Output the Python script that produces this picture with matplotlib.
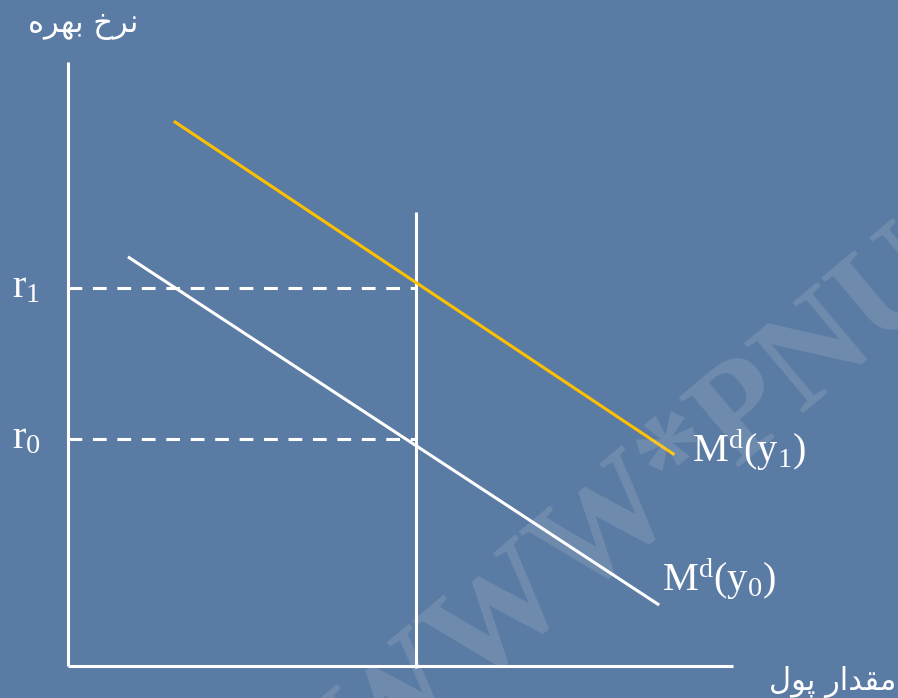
import matplotlib.pyplot as plt

plt.rcParams['mathtext.fontset'] = 'custom'
plt.rcParams['mathtext.rm'] = 'Liberation Serif'
plt.rcParams['mathtext.it'] = 'Liberation Serif'

# نمودار تقاضای پول - مقادیر به واحد دلخواه (مبدا = 0)
x_axis_end = 10.0
y_axis_end = 9.08
ms_x = 5.23
ms_y = [-0.03, 6.83]
md0_x = [0.92, 8.87]
md0_y = [6.14, 0.93]
md1_x = [1.61, 9.10]
md1_y = [8.18, 3.19]
r0 = 3.41
r1 = 5.68

y_title = "ﻩﺮﻬﺑ ﺥﺮﻧ"      # نرخ بهره (visual order, shaped)
x_title = "ﻝﻮﭘ ﺭﺍﺪﻘﻣ"      # مقدار پول
bg = '#5a7ba3'

fig = plt.figure(figsize=(8.98, 6.98), dpi=100)
fig.patch.set_facecolor(bg)
ax = fig.add_axes([0, 0, 1, 1])
ax.set_facecolor(bg)
ax.set_xlim(-1.0226, 12.481)
ax.set_ylim(-0.481, 10.015)
ax.axis('off')

# watermark
ax.text(8.56, 2.39, "WWW*PNU", fontsize=100, family='Liberation Serif', weight='bold',
        color='white', alpha=0.13, rotation=40, ha='center', va='center',
        rotation_mode='anchor')

lw = 2.2
ax.plot([0, 0], [0, y_axis_end], color='white', lw=lw, solid_capstyle='butt')
ax.plot([0, x_axis_end], [0, 0], color='white', lw=lw, solid_capstyle='butt')
ax.plot([ms_x, ms_x], ms_y, color='white', lw=lw, solid_capstyle='butt')
ax.plot([0, ms_x], [r1, r1], color='white', lw=lw, ls=(0, (4.5, 3.5)))
ax.plot([0, ms_x], [r0, r0], color='white', lw=lw, ls=(0, (4.5, 3.5)))
ax.plot(md1_x, md1_y, color='#ffc000', lw=lw)
ax.plot(md0_x, md0_y, color='white', lw=lw)

serif = dict(family='Liberation Serif', color='white', fontsize=29)
ax.text(-0.84, r1, r'$\mathregular{r_1}$', va='center', ha='left', **serif)
ax.text(-0.84, r0, r'$\mathregular{r_0}$', va='center', ha='left', **serif)
ax.text(9.38, 3.07, r'$\mathregular{M^d(y_1)}$', va='baseline', ha='left', **serif)
ax.text(8.93, 1.13, r'$\mathregular{M^d(y_0)}$', va='baseline', ha='left', **serif)

ax.text(0.23, 10.0 - 25 / 66.5, y_title, family=['DejaVu Sans', 'Noto Sans'],
        color='white', fontsize=22, ha='center', va='center')
ax.text(11.5, -16 / 66.5, x_title, family=['DejaVu Sans', 'Noto Sans'],
        color='white', fontsize=22, ha='center', va='center')

fig.savefig('out.png', dpi=100, facecolor=bg)
